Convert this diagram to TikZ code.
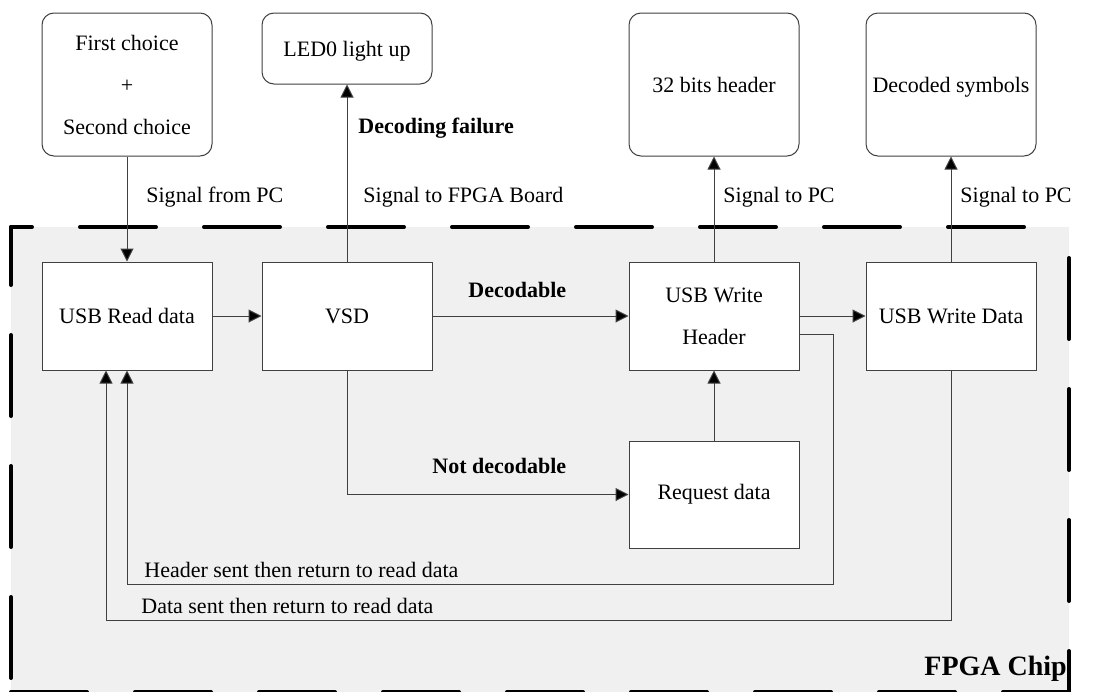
\documentclass[tikz,border=0pt]{standalone}
\usepackage{fontspec}
\setmainfont{Liberation Serif}
\usetikzlibrary{arrows.meta,calc}
\begin{document}
\begin{tikzpicture}[x=0.5pt,y=-0.5pt,
  every node/.style={font=\fontsize{11}{21}\selectfont},
  box/.style={draw=black!75,line width=0.5pt,fill=white,inner sep=0pt,align=center,minimum width=85pt,minimum height=54pt},
  rbox/.style={box,rounded corners=6pt},
  conn/.style={draw=black!75,line width=0.5pt,-{Triangle[length=6.5pt,width=6.5pt,fill=black]}},
  lbl/.style={anchor=base west,inner sep=0pt},
  blbl/.style={lbl,font=\fontsize{11}{13}\selectfont\bfseries},
  hborder/.style={line width=2pt,line cap=round,dash pattern=on 38pt off 24pt},
  vborder/.style={line width=2pt,line cap=round,dash pattern=on 40.5pt off 25pt}]
\useasboundingbox (0,0) rectangle (1101,691);
% FPGA chip region
\fill[black!6] (11,227) rectangle (1069,692);
\draw[hborder,dash phase=27.5pt] (11,227) -- (1069,227);
\draw[hborder,dash phase=0pt] (11,692) -- (1069,692);
\draw[vborder,dash phase=11.5pt] (11,227) -- (11,692);
\draw[vborder,dash phase=50pt] (1069,227) -- (1069,692);
% top boxes
\node[rbox,minimum height=71.5pt] (fc) at (127,84.5) {First choice\\+\\Second choice};
\node[rbox,minimum height=35.5pt] (led) at (347,48.5) {\strut LED0 light up};
\node[rbox,minimum height=71.5pt] (hdr) at (714,84.5) {\strut 32 bits header};
\node[rbox,minimum height=71.5pt] (dec) at (951,84.5) {\strut Decoded symbols};
% main boxes
\node[box] (usbr) at (127,316) {USB Read data};
\node[box] (vsd) at (347,316) {VSD};
\node[box] (usbwh) at (714,316) {USB Write\\Header};
\node[box] (usbwd) at (951,316) {USB Write Data};
\node[box,minimum height=53.5pt] (req) at (714,494.5) {Request data};
\coordinate (hloop) at (833,584);
\coordinate (dloop) at (951,620);
% connectors
\draw[conn] (fc) -- (usbr);
\draw[conn] (vsd) -- (led);
\draw[conn] (usbr) -- (vsd);
\draw[conn] (vsd) -- (usbwh);
\draw[conn] (usbwh) -- (usbwd);
\draw[conn] (usbwh) -- (hdr);
\draw[conn] (usbwd) -- (dec);
\draw[conn] (vsd.south) |- (req.west);
\draw[conn] (req) -- (usbwh);
\draw[conn] ([yshift=-9pt]usbwh.east) -| (hloop) -| (usbr.south);
\draw[conn] (usbwd.south) |- (dloop) -| ([xshift=-10.5pt]usbr.south);
% labels
\node[lbl] at (146,202) {Signal from PC};
\node[lbl] at (363,202) {Signal to FPGA Board};
\node[lbl] at (723,202) {Signal to PC};
\node[lbl] at (960,202) {Signal to PC};
\node[blbl] at (358,133) {Decoding failure};
\node[blbl] at (468,297) {Decodable};
\node[blbl] at (432,473) {Not decodable};
\node[lbl] at (144,577) {Header sent then return to read data};
\node[lbl] at (141,613) {Data sent then return to read data};
\node[blbl,font=\fontsize{14}{16}\selectfont\bfseries] at (924,675) {FPGA Chip};
\end{tikzpicture}
\end{document}
